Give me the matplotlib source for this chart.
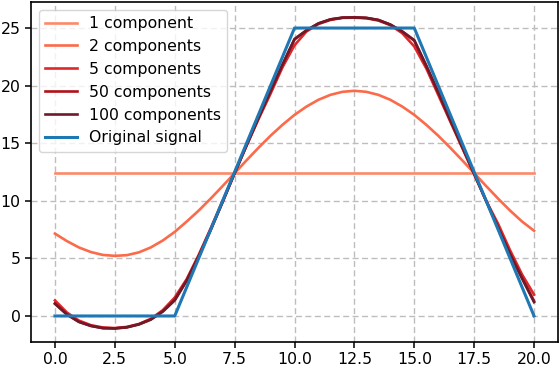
import matplotlib
matplotlib.use("Agg")
import matplotlib.pyplot as plt

# sample positions
x = [0.0, 0.5, 1.0, 1.5, 2.0, 2.5, 3.0, 3.5, 4.0, 4.5,
     5.0, 5.5, 6.0, 6.5, 7.0, 7.5, 8.0, 8.5, 9.0, 9.5,
     10.0, 10.5, 11.0, 11.5, 12.0, 12.5, 13.0, 13.5, 14.0, 14.5,
     15.0, 15.5, 16.0, 16.5, 17.0, 17.5, 18.0, 18.5, 19.0, 19.5, 20.0]

# 1 component (mean)
x_mean = [0.0, 20.0]
comp1 = [12.4, 12.4]

comp2 = [7.15, 6.5, 5.95, 5.55, 5.3, 5.22, 5.28, 5.52, 5.95, 6.55,
         7.3, 8.2, 9.15, 10.19, 11.28, 12.4, 13.52, 14.61, 15.65, 16.6,
         17.46, 18.18, 18.77, 19.2, 19.46, 19.55, 19.46, 19.2, 18.77, 18.18,
         17.46, 16.6, 15.65, 14.61, 13.52, 12.4, 11.28, 10.19, 9.15, 8.2, 7.4]

comp5 = [1.35, 0.3, -0.4, -0.8, -1.0, -1.05, -0.95, -0.7, -0.25, 0.5,
         1.6, 3.2, 5.3, 7.6, 10.0, 12.4, 14.8, 17.1, 19.3, 21.6,
         23.5, 24.7, 25.35, 25.7, 25.88, 25.9, 25.85, 25.65, 25.25, 24.55,
         23.4, 21.5, 19.2, 16.9, 14.6, 12.3, 10.0, 8.0, 5.7, 3.6, 1.85]

comp50 = [1.1, 0.15, -0.5, -0.85, -1.05, -1.08, -0.98, -0.72, -0.3, 0.4,
          1.4, 3.1, 5.2, 7.5, 9.9, 12.4, 14.8, 17.2, 19.5, 21.8,
          24.0, 24.8, 25.4, 25.75, 25.9, 25.92, 25.88, 25.7, 25.3, 24.7,
          23.9, 21.7, 19.4, 17.0, 14.7, 12.35, 10.0, 7.7, 5.4, 3.3, 1.3]

comp100 = [1.05, 0.12, -0.52, -0.87, -1.06, -1.08, -0.99, -0.74, -0.32, 0.38,
           1.35, 3.05, 5.15, 7.45, 9.9, 12.4, 14.85, 17.25, 19.55, 21.85,
           24.05, 24.8, 25.4, 25.75, 25.9, 25.92, 25.88, 25.7, 25.3, 24.7,
           23.95, 21.75, 19.45, 17.05, 14.7, 12.35, 10.0, 7.65, 5.35, 3.25, 1.2]

# original trapezoid signal
x_sig = [0.0, 5.0, 10.0, 15.0, 20.0]
signal = [0.0, 0.0, 25.0, 25.0, 0.0]

plt.rcParams['font.size'] = 11.3
plt.rcParams['axes.linewidth'] = 1.2
plt.rcParams['xtick.major.width'] = 1.1
plt.rcParams['ytick.major.width'] = 1.1
plt.rcParams['xtick.major.size'] = 4
plt.rcParams['ytick.major.size'] = 4

fig, ax = plt.subplots(figsize=(5.6, 3.68), dpi=100)
fig.subplots_adjust(left=31/560, right=558/560, bottom=26/368, top=366/368)

ax.plot(x_mean, comp1, color='#fc8a6a', lw=1.9, label='1 component')
ax.plot(x, comp2, color='#fb6a4a', lw=1.9, label='2 components')
ax.plot(x, comp5, color='#e0282a', lw=1.9, label='5 components')
ax.plot(x, comp50, color='#b11218', lw=1.9, label='50 components')
ax.plot(x, comp100, color='#6e1a28', lw=1.9, label='100 components')
ax.plot(x_sig, signal, color='#1f77b4', lw=2.2, label='Original signal')

ax.set_xlim(-1, 21)
ax.set_ylim(-2.26, 27.26)
ax.set_xticks([0, 2.5, 5, 7.5, 10, 12.5, 15, 17.5, 20])
ax.set_yticks([0, 5, 10, 15, 20, 25])
ax.grid(True, linestyle=(0, (4.3, 2.5)), color='#bdbdbd', lw=1.0)
ax.legend(loc='upper left')

plt.savefig('out.png')
